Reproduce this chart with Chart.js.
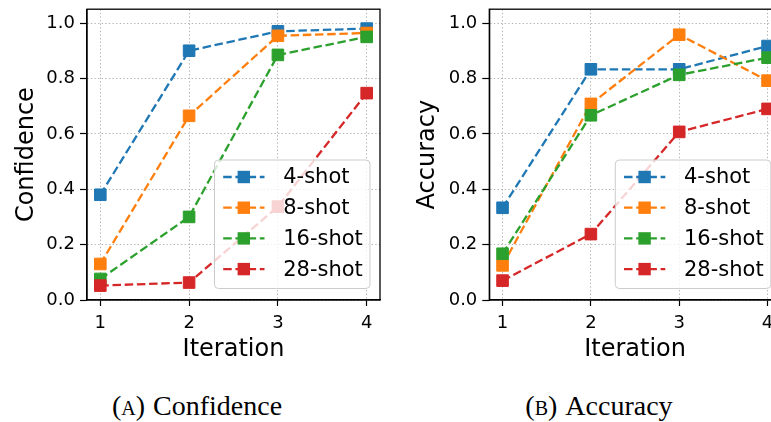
<!DOCTYPE html>
<html>
<head>
<meta charset="utf-8">
<script src="https://cdn.jsdelivr.net/npm/chart.js@4.4.1/dist/chart.umd.min.js"></script>
<style>
  html, body { margin: 0; padding: 0; background: #fff; overflow: hidden; width: 771px; height: 422px; }
  canvas { position: absolute; top: 0; }
  #conf { left: 0; }
  #acc { left: 390px; }
  .caption {
    position: absolute; top: 390px; height: 32px; line-height: 32px;
    width: 300px; text-align: center;
    font-family: "Liberation Serif", serif; font-size: 28px; color: #000;
  }
  .sc { font-variant: small-caps; }
  .gap { margin-left: 8px; }
</style>
</head>
<body>
<canvas id="conf" width="390" height="370"></canvas>
<canvas id="acc" width="400" height="370"></canvas>
<div class="caption" style="left: 47px;">(<span class="sc">a</span>)<span class="gap">Confidence</span></div>
<div class="caption" style="left: 449px;">(<span class="sc">b</span>)<span class="gap">Accuracy</span></div>
<script>
// values
const iterations = [1, 2, 3, 4];
const yTicks = [0, 0.2, 0.4, 0.6, 0.8, 1.0];
const seriesLabels = ['4-shot', '8-shot', '16-shot', '28-shot'];
const seriesColors = ['#1f77b4', '#ff7f0e', '#2ca02c', '#d62728'];

const confidence4 = [0.38, 0.90, 0.97, 0.98];
const confidence8 = [0.13, 0.665, 0.954, 0.964];
const confidence16 = [0.076, 0.30, 0.885, 0.95];
const confidence28 = [0.052, 0.063, 0.337, 0.747];

const accuracy4 = [0.333, 0.833, 0.833, 0.917];
const accuracy8 = [0.125, 0.708, 0.958, 0.792];
const accuracy16 = [0.167, 0.667, 0.813, 0.875];
const accuracy28 = [0.07, 0.238, 0.607, 0.69];

Chart.defaults.font.family = 'DejaVu Sans';
Chart.defaults.color = '#000';

// matplotlib-like frame + lower-right legend box
const frameAndLegend = {
    id: 'frameAndLegend',
    afterDatasetsDraw(chart) {
        const ctx = chart.ctx;
        const a = chart.chartArea;
        ctx.save();
        ctx.strokeStyle = '#000';
        ctx.lineWidth = 1.3;
        ctx.strokeRect(a.left, a.top, a.right - a.left, a.bottom - a.top);

        const w = 155.5, h = 128.5;
        const x0 = a.right - 10 - w;
        const y0 = a.bottom - 11.5 - h;
        ctx.beginPath();
        ctx.roundRect(x0, y0, w, h, 4);
        ctx.fillStyle = 'rgba(255,255,255,0.8)';
        ctx.fill();
        ctx.lineWidth = 1;
        ctx.strokeStyle = '#cccccc';
        ctx.stroke();

        ctx.font = '21px "DejaVu Sans"';
        ctx.textBaseline = 'middle';
        ctx.textAlign = 'left';
        chart.data.datasets.forEach((ds, i) => {
            const y = y0 + 17 + i * 30.7;
            ctx.beginPath();
            ctx.setLineDash(ds.borderDash);
            ctx.strokeStyle = ds.borderColor;
            ctx.lineWidth = ds.borderWidth;
            ctx.moveTo(x0 + 8.7, y);
            ctx.lineTo(x0 + 50, y);
            ctx.stroke();
            ctx.setLineDash([]);
            ctx.fillStyle = ds.borderColor;
            ctx.fillRect(x0 + 29.3 - 6.2, y - 6.2, 12.4, 12.4);
            ctx.fillStyle = '#000';
            ctx.fillText(ds.label, x0 + 68.7, y + 1);
        });
        ctx.restore();
    }
};

function makeDatasets(seriesList) {
    return seriesList.map((vals, i) => ({
        label: seriesLabels[i],
        data: iterations.map((it, j) => ({ x: it, y: vals[j] })),
        borderColor: seriesColors[i],
        backgroundColor: seriesColors[i],
        pointBackgroundColor: seriesColors[i],
        pointBorderColor: seriesColors[i],
        borderWidth: 2.3,
        borderDash: [8.5, 3.7],
        pointStyle: 'rect',
        pointRadius: 8.2,
        pointBorderWidth: 1,
        order: seriesList.length - 1 - i,
        tension: 0,
    }));
}

function makeChart(id, yTitle, seriesList, axisWidth, rightPad, titlePad) {
    return new Chart(document.getElementById(id), {
        type: 'line',
        data: { datasets: makeDatasets(seriesList) },
        options: {
            responsive: false,
            animation: false,
            devicePixelRatio: 1,
            layout: { padding: { top: 9, right: rightPad, bottom: 0, left: 0 } },
            plugins: { legend: { display: false }, tooltip: { enabled: false } },
            scales: {
                x: {
                    type: 'linear',
                    min: 0.85,
                    max: 4.15,
                    afterBuildTicks: s => { s.ticks = iterations.map(v => ({ value: v })); },
                    afterFit: s => { s.height = 70; s.paddingLeft = 0; s.paddingRight = 0; },
                    ticks: { font: { size: 18 }, color: '#000', padding: 7, callback: v => String(v) },
                    grid: { color: '#b0b0b0', lineWidth: 1, tickColor: '#000', tickLength: 6, tickWidth: 1.2 },
                    border: { color: '#000', width: 1.3, dash: [1.3, 2.3] },
                    title: { display: true, text: 'Iteration', font: { size: 24 }, color: '#000', padding: { top: 0, bottom: 6 } },
                },
                y: {
                    min: 0,
                    max: 1.05,
                    afterBuildTicks: s => { s.ticks = yTicks.map(v => ({ value: v })); },
                    afterFit: s => { s.width = axisWidth; s.paddingTop = 0; s.paddingBottom = 0; },
                    ticks: { font: { size: 18 }, color: '#000', padding: 5, callback: v => v.toFixed(1) },
                    grid: { color: '#b0b0b0', lineWidth: 1, tickColor: '#000', tickLength: 7, tickWidth: 1.2 },
                    border: { color: '#000', width: 1.3, dash: [1.3, 2.3] },
                    title: { display: true, text: yTitle, font: { size: 24 }, color: '#000', padding: { top: titlePad, bottom: 0 } },
                },
            },
        },
        plugins: [frameAndLegend],
    });
}

makeChart('conf', 'Confidence', [confidence4, confidence8, confidence16, confidence28], 87, 10, 12.5);
makeChart('acc', 'Accuracy', [accuracy4, accuracy8, accuracy16, accuracy28], 99.3, 8.7, 23.5);
</script>
</body>
</html>
